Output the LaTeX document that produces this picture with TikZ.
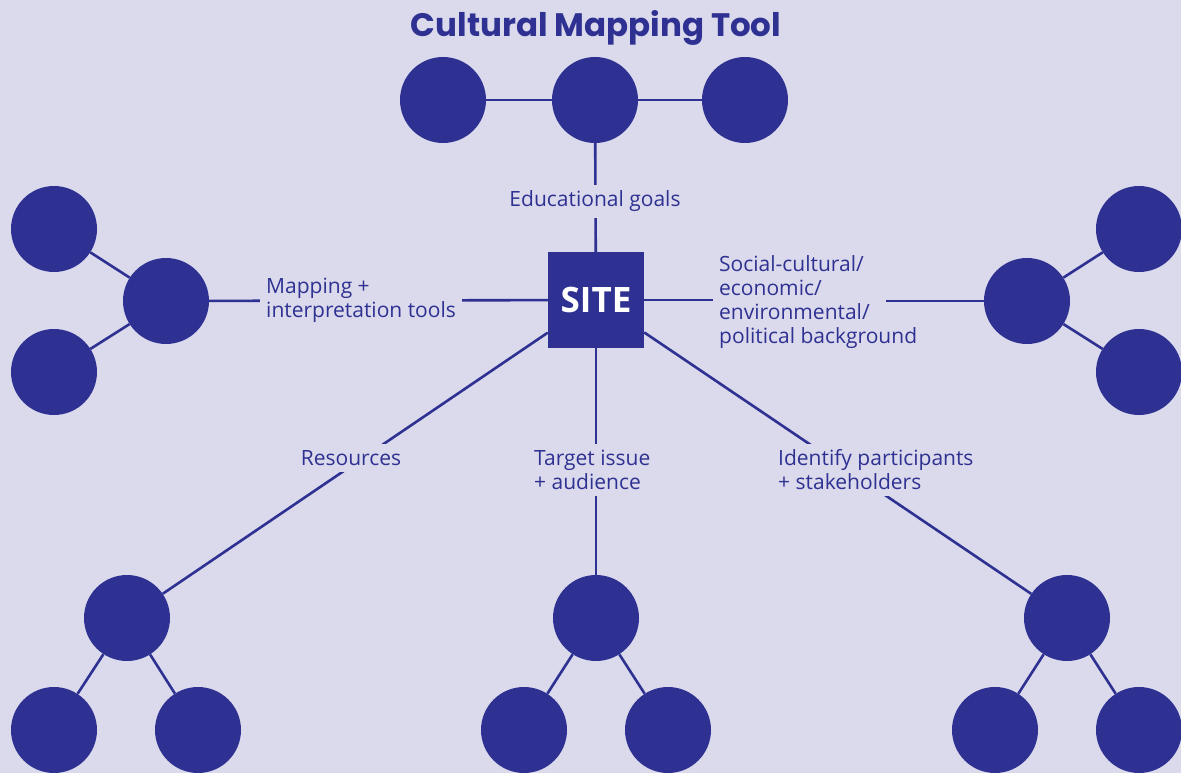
\documentclass[tikz,border=0pt]{standalone}
\usepackage{fontspec}
\setmainfont{Open Sans}
\newfontfamily\titlefont{Poppins}
\usetikzlibrary{positioning}
\definecolor{mapblue}{RGB}{46,49,146}
\definecolor{mapbg}{RGB}{219,218,236}

\begin{document}
\begin{tikzpicture}[x=1pt, y=-1pt,
  ball/.style={circle, fill=mapblue, inner sep=0pt, minimum size=86pt},
  sitebox/.style={fill=mapblue, text=white, minimum size=96pt, inner sep=0pt, font=\fontsize{35}{40}\selectfont\bfseries},
  lbl/.style={fill=mapbg, text=mapblue, align=left, inner sep=6pt, font=\fontsize{21}{24}\selectfont},
  link/.style={draw=mapblue, line width=2.6pt}
]
\fill[mapbg] (0,0) rectangle (1181,773);
\clip (0,0) rectangle (1181,773);

\node[font=\titlefont\fontsize{32.5}{34}\selectfont\bfseries, text=mapblue] (title) at (596,28) {Cultural Mapping Tool};

% centre
\node[sitebox] (site) at (596,300) {SITE};

% top row
\node[ball] (tl) at (443,100) {};
\node[ball] (tm) at (595,100) {};
\node[ball] (tr) at (745,100) {};

% left group
\node[ball] (lm) at (166,301) {};
\node[ball] (lt) at (54,229) {};
\node[ball] (lb) at (54,372) {};

% right group
\node[ball] (rm) at (1027,301) {};
\node[ball] (rt) at (1139,229) {};
\node[ball] (rb) at (1139,372) {};

% bottom groups
\node[ball] (bl) at (127,618) {};
\node[ball] (bll) at (54,730) {};
\node[ball] (blr) at (198,730) {};
\node[ball] (bm) at (596,618) {};
\node[ball] (bml) at (524,730) {};
\node[ball] (bmr) at (668,730) {};
\node[ball] (br) at (1067,618) {};
\node[ball] (brl) at (995,730) {};
\node[ball] (brr) at (1139,730) {};

\coordinate (socend) at (886,301);

% links
\draw[link] (tl) -- (tm);
\draw[link] (tm) -- (tr);
\draw[link] (tm) -- (site);
\draw[link] (lm) -- (site);
\draw[link] (lm) -- (lt);
\draw[link] (lm) -- (lb);
\draw[link] (socend) -- (rm);
\draw[link] (rm) -- (rt);
\draw[link] (rm) -- (rb);
\draw[link] (site) -- (bl);
\draw[link] (site) -- (bm);
\draw[link] (site) -- (br);
\draw[link] (bl) -- (bll);
\draw[link] (bl) -- (blr);
\draw[link] (bm) -- (bml);
\draw[link] (bm) -- (bmr);
\draw[link] (br) -- (brl);
\draw[link] (br) -- (brr);

% labels
\node[lbl] (edu) at (595,201) {Educational goals};
\node[lbl, anchor=west] (map) at (260,300) {Mapping +\\interpretation tools};
\node[lbl, fill=none, anchor=west] (soc) at (713,302) {Social-cultural/\\economic/\\environmental/\\political background};
\draw[link] (site) -- (soc.west |- site.east);
\node[lbl] (res) at (351,458) {Resources};
\node[lbl, anchor=west] (tgt) at (528,470) {Target issue\\+ audience};
\node[lbl, anchor=west] (idp) at (772,470) {Identify participants\\+ stakeholders};
\end{tikzpicture}
\end{document}
